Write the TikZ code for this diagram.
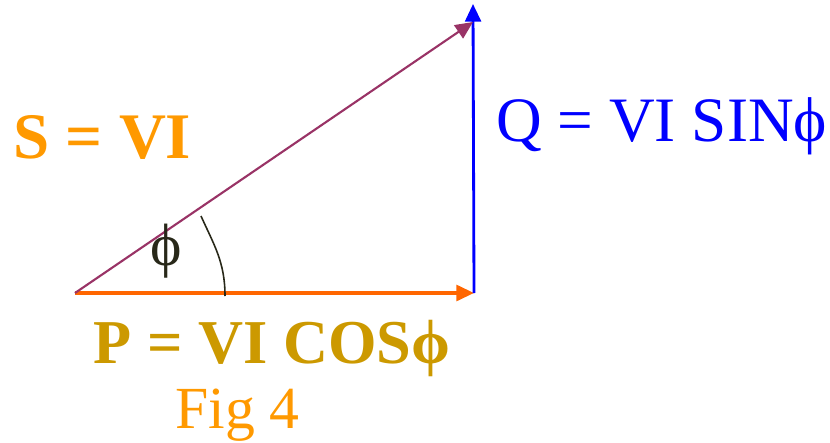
\documentclass[tikz,border=0pt]{standalone}
\usepackage{fontspec}
\setmainfont{Liberation Serif}
\usetikzlibrary{arrows.meta}
\definecolor{purp}{RGB}{153,51,102}
\definecolor{orng}{RGB}{255,102,0}
\definecolor{gold}{RGB}{204,153,0}
\definecolor{lorng}{RGB}{255,153,0}
\definecolor{dark}{RGB}{40,40,25}
\begin{document}
\begin{tikzpicture}[
    x=0.02cm, y=-0.02cm,
    vec/.style={-{Triangle[length=10pt, width=9pt]}},
    lbl/.style={inner sep=0pt, anchor=base west}
]
    \useasboundingbox (0,0) rectangle (830,442);

    \coordinate (O) at (75,293);
    \coordinate (A) at (474,293);
    \coordinate (B) at (473,4);
    \coordinate (T) at (473,22);

    \draw[vec, orng, line width=1.8pt] (O) -- (A);
    \draw[vec, blue, line width=1.6pt] (A) -- (B);
    \draw[vec, purp, line width=1.2pt] (O) -- (T);

    % angle mark
    \coordinate (m1) at (201,216);
    \coordinate (m2) at (225,296);
    \draw[dark, line width=0.9pt] (m1) .. controls (214,245) and (225,262) .. (m2);

    \node[lbl, lorng, font=\fontsize{37}{40}\selectfont\bfseries] (s) at (13,158) {S = VI};
    \node[lbl, blue, font=\fontsize{36}{38}\selectfont] (q) at (496,142) {Q = VI SINϕ};
    \node[lbl, gold, font=\fontsize{35.5}{38}\selectfont\bfseries] (p) at (93,363) {P = VI COSϕ};
    \node[lbl, lorng, font=\fontsize{34}{36}\selectfont] (fig) at (175,428) {Fig 4};
    \node[dark, inner sep=0pt, font=\fontsize{34}{36}\selectfont] (phi) at (166,251) {ϕ};
\end{tikzpicture}
\end{document}
